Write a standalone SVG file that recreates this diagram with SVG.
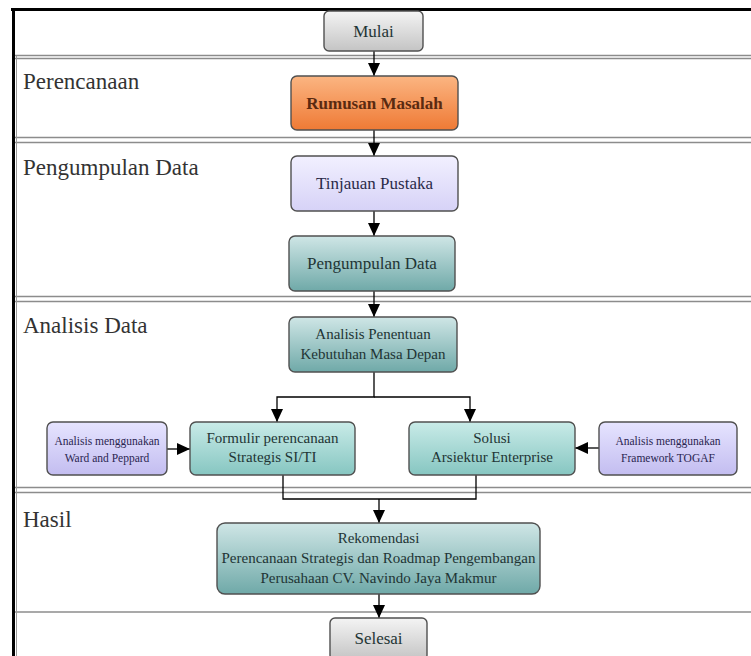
<svg xmlns="http://www.w3.org/2000/svg" width="751" height="656" viewBox="0 0 751 656">
<defs>
  <linearGradient id="gGray" x1="0" y1="0" x2="0" y2="1">
    <stop offset="0" stop-color="#f4f4f4"/><stop offset="1" stop-color="#c4c4c4"/>
  </linearGradient>
  <linearGradient id="gOrange" x1="0" y1="0" x2="0" y2="1">
    <stop offset="0" stop-color="#fbb582"/><stop offset="1" stop-color="#ef7a35"/>
  </linearGradient>
  <linearGradient id="gLav" x1="0" y1="0" x2="0" y2="1">
    <stop offset="0" stop-color="#f2f0ff"/><stop offset="1" stop-color="#d6d2f7"/>
  </linearGradient>
  <linearGradient id="gLav2" x1="0" y1="0" x2="0" y2="1">
    <stop offset="0" stop-color="#e6e4ff"/><stop offset="1" stop-color="#c3bdf0"/>
  </linearGradient>
  <linearGradient id="gTeal" x1="0" y1="0" x2="0" y2="1">
    <stop offset="0" stop-color="#cfe6e6"/><stop offset="1" stop-color="#6fa9a8"/>
  </linearGradient>
  <linearGradient id="gTeal2" x1="0" y1="0" x2="0" y2="1">
    <stop offset="0" stop-color="#c9ebe8"/><stop offset="1" stop-color="#86c6c1"/>
  </linearGradient>
  <marker id="arr" viewBox="0 0 13 12" refX="13" refY="6" markerWidth="13" markerHeight="12" markerUnits="userSpaceOnUse" orient="auto">
    <path d="M0,0 L13,6 L0,12 Z" fill="#000"/>
  </marker>
</defs>
<style>
  .sep { stroke: #8c8c8c; stroke-width: 1.6; fill: none; }
  .lane { font-family: "Liberation Serif", "Times New Roman", serif; font-size: 23px; fill: #333; }
  .box { stroke: #505050; stroke-width: 1.4; }
  .t { font-family: "Liberation Serif", "Times New Roman", serif; text-anchor: middle; fill: #1f3535; }
  .t17 { font-size: 17px; }
  .t15 { font-size: 15px; }
  .t11 { font-size: 11.5px; fill: #2a2550; }
  .con { stroke: #000; stroke-width: 1.3; fill: none; }
</style>
<rect x="0" y="0" width="751" height="656" fill="#fff"/>

<g id="lanes">
  <line class="sep" x1="15" y1="55.5" x2="751" y2="55.5"/>
  <line class="sep" x1="15" y1="58.5" x2="751" y2="58.5"/>
  <line class="sep" x1="15" y1="137.5" x2="751" y2="137.5"/>
  <line class="sep" x1="15" y1="142.5" x2="751" y2="142.5"/>
  <line class="sep" x1="15" y1="296.5" x2="751" y2="296.5"/>
  <line class="sep" x1="15" y1="301.5" x2="751" y2="301.5"/>
  <line class="sep" x1="15" y1="487.5" x2="751" y2="487.5"/>
  <line class="sep" x1="15" y1="492.5" x2="751" y2="492.5"/>
  <line class="sep" x1="15" y1="612" x2="751" y2="612"/>
  <line x1="16.5" y1="56" x2="16.5" y2="656" stroke="#9a9a9a" stroke-width="1"/>
  <text class="lane" x="23" y="89">Perencanaan</text>
  <text class="lane" x="23" y="175">Pengumpulan Data</text>
  <text class="lane" x="23" y="333">Analisis Data</text>
  <text class="lane" x="23" y="527">Hasil</text>
</g>

<g id="frame">
  <line x1="11" y1="9.5" x2="751" y2="9.5" stroke="#000" stroke-width="3"/>
  <line x1="13.5" y1="8" x2="13.5" y2="656" stroke="#000" stroke-width="3"/>
</g>

<g id="connectors">
  <line class="con" x1="374" y1="51" x2="374" y2="76" marker-end="url(#arr)"/>
  <line class="con" x1="374" y1="130" x2="374" y2="156" marker-end="url(#arr)"/>
  <line class="con" x1="374" y1="211" x2="374" y2="236" marker-end="url(#arr)"/>
  <line class="con" x1="374" y1="291" x2="374" y2="317" marker-end="url(#arr)"/>
  <polyline class="con" points="374,372 374,397 277,397 277,422" marker-end="url(#arr)"/>
  <polyline class="con" points="374,397 470,397 470,422" marker-end="url(#arr)"/>
  <line class="con" x1="167" y1="449" x2="190" y2="449" marker-end="url(#arr)"/>
  <line class="con" x1="599" y1="448" x2="575" y2="448" marker-end="url(#arr)"/>
  <polyline class="con" points="283,475 283,499 476,499 476,475"/>
  <line class="con" x1="379" y1="499" x2="379" y2="523" marker-end="url(#arr)"/>
  <line class="con" x1="379" y1="594" x2="379" y2="618" marker-end="url(#arr)"/>
</g>

<g id="mulai">
  <rect class="box" x="324" y="11" width="99" height="40" rx="5" fill="url(#gGray)"/>
  <text class="t t17" x="373.5" y="37" fill="#333">Mulai</text>
</g>
<g id="rumusan">
  <rect class="box" x="291" y="76" width="167" height="54" rx="6" fill="url(#gOrange)"/>
  <text class="t t17" x="374.5" y="109" style="fill:#5a2a10;font-weight:bold">Rumusan Masalah</text>
</g>
<g id="tinjauan">
  <rect class="box" x="291" y="156" width="167" height="55" rx="6" fill="url(#gLav)"/>
  <text class="t t17" x="374.5" y="189" style="fill:#2a2a48">Tinjauan Pustaka</text>
</g>
<g id="pengumpulan">
  <rect class="box" x="289" y="236" width="166" height="55" rx="6" fill="url(#gTeal)"/>
  <text class="t t17" x="372" y="269">Pengumpulan Data</text>
</g>
<g id="analisis">
  <rect class="box" x="289" y="317" width="168" height="55" rx="6" fill="url(#gTeal)"/>
  <text class="t t15" x="373" y="339">Analisis Penentuan</text>
  <text class="t t15" x="373" y="359">Kebutuhan Masa Depan</text>
</g>
<g id="ward">
  <rect class="box" x="47" y="422" width="120" height="53" rx="6" fill="url(#gLav2)"/>
  <text class="t t11" x="107" y="445">Analisis menggunakan</text>
  <text class="t t11" x="107" y="462">Ward and Peppard</text>
</g>
<g id="formulir">
  <rect class="box" x="190" y="422" width="165" height="53" rx="6" fill="url(#gTeal2)"/>
  <text class="t t15" x="272.5" y="443">Formulir perencanaan</text>
  <text class="t t15" x="272.5" y="462">Strategis SI/TI</text>
</g>
<g id="solusi">
  <rect class="box" x="409" y="422" width="166" height="53" rx="6" fill="url(#gTeal2)"/>
  <text class="t t15" x="492" y="443">Solusi</text>
  <text class="t t15" x="492" y="462">Arsiektur Enterprise</text>
</g>
<g id="togaf">
  <rect class="box" x="599" y="422" width="138" height="53" rx="6" fill="url(#gLav2)"/>
  <text class="t t11" x="668" y="445">Analisis menggunakan</text>
  <text class="t t11" x="668" y="462">Framework TOGAF</text>
</g>
<g id="rekomendasi">
  <rect class="box" x="217" y="523" width="323" height="71" rx="8" fill="url(#gTeal)"/>
  <text class="t t15" x="378.5" y="543">Rekomendasi</text>
  <text class="t t15" x="378.5" y="563" textLength="314" lengthAdjust="spacingAndGlyphs">Perencanaan Strategis dan Roadmap Pengembangan</text>
  <text class="t t15" x="378.5" y="583">Perusahaan CV. Navindo Jaya Makmur</text>
</g>
<g id="selesai">
  <rect class="box" x="330" y="618" width="97" height="42" rx="5" fill="url(#gGray)"/>
  <text class="t t17" x="378.5" y="644" fill="#333">Selesai</text>
</g>
</svg>
